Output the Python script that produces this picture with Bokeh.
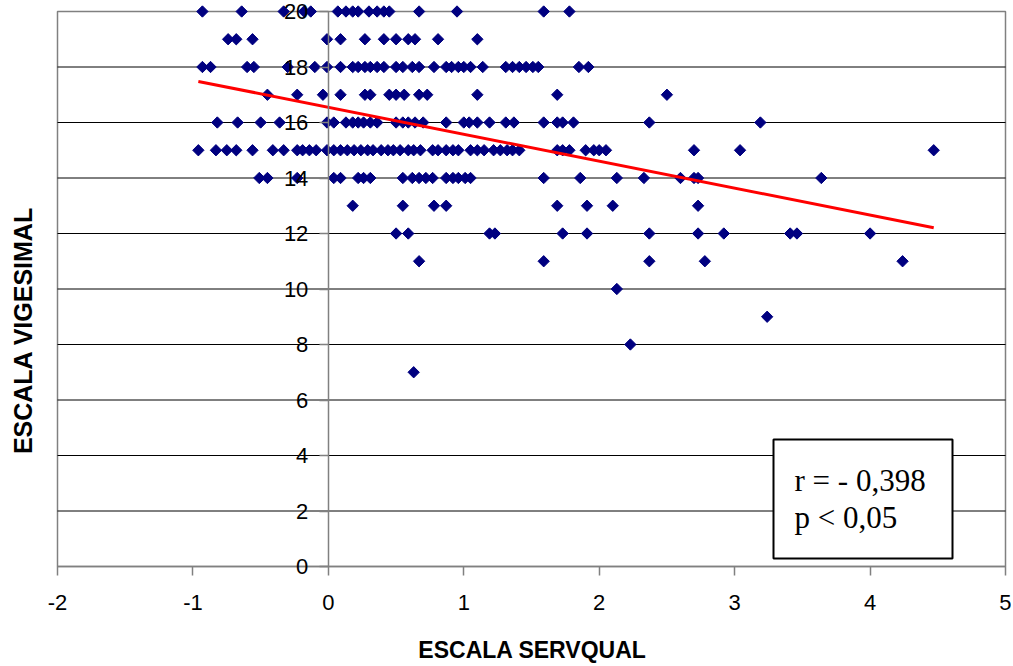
import numpy as np
from bokeh.plotting import figure
from bokeh.models import Range1d, FixedTicker, BoxAnnotation, Label
from bokeh.embed import file_html
from bokeh.resources import INLINE

# ESCALA SERVQUAL values of the students, grouped by their ESCALA VIGESIMAL score
servqual_at_20 = [-0.93, -0.64, -0.33, -0.18, -0.13, 0.07, 0.13, 0.18, 0.22, 0.30, 0.36, 0.41, 0.45, 0.67, 0.95, 1.59, 1.78]
servqual_at_19 = [-0.74, -0.68, -0.56, -0.01, 0.09, 0.27, 0.41, 0.50, 0.59, 0.64, 0.81, 1.10]
servqual_at_18 = [-0.93, -0.87, -0.60, -0.55, -0.30, -0.10, -0.01, 0.09, 0.18, 0.22, 0.27, 0.31, 0.36, 0.41,
                  0.50, 0.55, 0.62, 0.67, 0.78, 0.87, 0.91, 0.96, 1.00, 1.05, 1.14, 1.31, 1.36, 1.41, 1.46,
                  1.51, 1.55, 1.85, 1.92]
servqual_at_17 = [-0.45, -0.23, -0.04, 0.09, 0.27, 0.31, 0.45, 0.50, 0.56, 0.67, 0.73, 1.10, 1.69, 2.50]
servqual_at_16 = [-0.82, -0.67, -0.50, -0.36, -0.01, 0.04, 0.13, 0.18, 0.22, 0.26, 0.31, 0.36, 0.50, 0.55,
                  0.59, 0.64, 0.70, 0.87, 1.00, 1.04, 1.10, 1.19, 1.31, 1.37, 1.59, 1.69, 1.73, 1.81, 2.37, 3.19]
servqual_at_15 = [-0.96, -0.83, -0.75, -0.68, -0.56, -0.41, -0.33, -0.23, -0.19, -0.14, -0.09, -0.01, 0.04,
                  0.09, 0.14, 0.19, 0.24, 0.29, 0.33, 0.39, 0.44, 0.48, 0.53, 0.59, 0.63, 0.68, 0.77, 0.81,
                  0.87, 0.92, 0.96, 1.05, 1.10, 1.15, 1.22, 1.27, 1.32, 1.36, 1.41, 1.69, 1.73, 1.78, 1.90,
                  1.96, 2.00, 2.05, 2.70, 3.04, 4.47]
servqual_at_14 = [-0.51, -0.45, -0.23, 0.04, 0.09, 0.22, 0.26, 0.31, 0.55, 0.62, 0.67, 0.72, 0.77, 0.87, 0.92,
                  0.96, 1.01, 1.05, 1.59, 1.86, 2.13, 2.33, 2.60, 2.70, 2.73, 3.64]
servqual_at_13 = [0.18, 0.55, 0.78, 0.87, 1.69, 1.91, 2.10, 2.73]
servqual_at_12 = [0.50, 0.59, 1.19, 1.23, 1.73, 1.91, 2.37, 2.73, 2.92, 3.41, 3.46, 4.00]
servqual_at_11 = [0.67, 1.59, 2.37, 2.78, 4.24]
servqual_at_10 = [2.13]
servqual_at_9 = [3.24]
servqual_at_8 = [2.23]
servqual_at_7 = [0.63]

groups = [(20, servqual_at_20), (19, servqual_at_19), (18, servqual_at_18), (17, servqual_at_17),
          (16, servqual_at_16), (15, servqual_at_15), (14, servqual_at_14), (13, servqual_at_13),
          (12, servqual_at_12), (11, servqual_at_11), (10, servqual_at_10), (9, servqual_at_9),
          (8, servqual_at_8), (7, servqual_at_7)]

# linear trend line
trend_x = [-0.96, 4.47]
trend_y = [17.48, 12.21]

x_ticks = [-2, -1, 0, 1, 2, 3, 4, 5]
y_ticks = [0, 2, 4, 6, 8, 10, 12, 14, 16, 18, 20]
grid_ticks = [2, 4, 6, 8, 10, 12, 14, 16, 18]
x_lo, x_hi = -2, 5
y_lo, y_hi = 0, 20

stat_lines = ["r = - 0,398", "p < 0,05"]
x_title = "ESCALA SERVQUAL"
y_title = "ESCALA VIGESIMAL"

xs = []
ys = []
for score, vals in groups:
    xs.extend(vals)
    ys.extend([score] * len(vals))

# ---- layout (pixels) ----
W, H = 1011, 664
plot_left, plot_right = 57, 1005     # pixel position of x = -2 and x = 5
plot_top, plot_bottom = 11, 566      # pixel position of y = 20 and y = 0
sx = (plot_right - plot_left) / (x_hi - x_lo)
sy = (plot_bottom - plot_top) / (y_hi - y_lo)


def dx(px):
    return x_lo + (px - plot_left) / sx


def dy(py):
    return y_lo + (plot_bottom - py) / sy


p = figure(width=W, height=H,
           x_range=Range1d(dx(0), dx(W)), y_range=Range1d(dy(H), dy(0)),
           output_backend="svg", toolbar_location=None,
           min_border_left=0, min_border_right=0, min_border_top=0, min_border_bottom=0,
           background_fill_color="white", border_fill_color="white")
p.outline_line_color = None
p.xgrid.visible = False
p.ygrid.visible = False

# horizontal gridlines
p.segment(x0=x_lo, x1=x_hi, y0=grid_ticks, y1=grid_ticks, line_color="black", line_width=1)

# plot-area frame
frame = BoxAnnotation(left=x_lo, right=x_hi, bottom=y_lo, top=y_hi, fill_color=None,
                      line_color="#808080", line_alpha=1.0, line_width=1.5, level="underlay")
p.add_layout(frame)

for ax in (p.xaxis[0], p.yaxis[0]):
    ax.axis_line_color = "#808080"
    ax.axis_line_width = 1.5
    ax.major_tick_line_color = "#808080"
    ax.major_tick_line_width = 1.5
    ax.major_tick_in = 0
    ax.major_tick_out = 9
    ax.minor_tick_line_color = None
    ax.major_label_text_font = "Liberation Sans"
    ax.major_label_text_font_size = "22px"
    ax.major_label_text_color = "black"
    ax.fixed_location = 0

p.xaxis[0].ticker = FixedTicker(ticks=x_ticks)
p.xaxis[0].bounds = (x_lo, x_hi)
p.xaxis[0].major_label_standoff = 19
p.xaxis[0].major_label_overrides = {t: str(t) for t in x_ticks}
p.yaxis[0].ticker = FixedTicker(ticks=y_ticks)
p.yaxis[0].bounds = (y_lo, y_hi)
p.yaxis[0].major_label_standoff = 11

p.scatter(xs, ys, marker="square", angle=np.pi / 4, size=8,
          fill_color="#000080", line_color="#000080")
p.line(trend_x, trend_y, line_color="#FF0000", line_width=3)

# statistics box
box = BoxAnnotation(left=dx(773), right=dx(952), bottom=dy(558), top=dy(439), fill_color="white",
                    fill_alpha=1.0, line_color="black", line_alpha=1.0, line_width=2,
                    level="annotation")
p.add_layout(box)
p.add_layout(Label(x=dx(794), y=dy(480), text=stat_lines[0], text_font="Liberation Serif",
                   text_font_size="31px", text_color="black", text_baseline="alphabetic",
                   text_align="left"))
p.add_layout(Label(x=dx(794), y=dy(517), text=stat_lines[1], text_font="Liberation Serif",
                   text_font_size="31px", text_color="black", text_baseline="alphabetic",
                   text_align="left"))

# axis titles
p.add_layout(Label(x=dx(532), y=dy(649), text=x_title, text_font="Liberation Sans",
                   text_font_size="23px", text_font_style="bold", text_color="black",
                   text_align="center", text_baseline="middle"))
p.add_layout(Label(x=dx(22), y=dy(330), text=y_title, text_font="Liberation Sans",
                   text_font_size="25px", text_font_style="bold", text_color="black",
                   angle=np.pi / 2, text_align="center", text_baseline="middle"))

open("out.html", "w").write(file_html(p, INLINE))
